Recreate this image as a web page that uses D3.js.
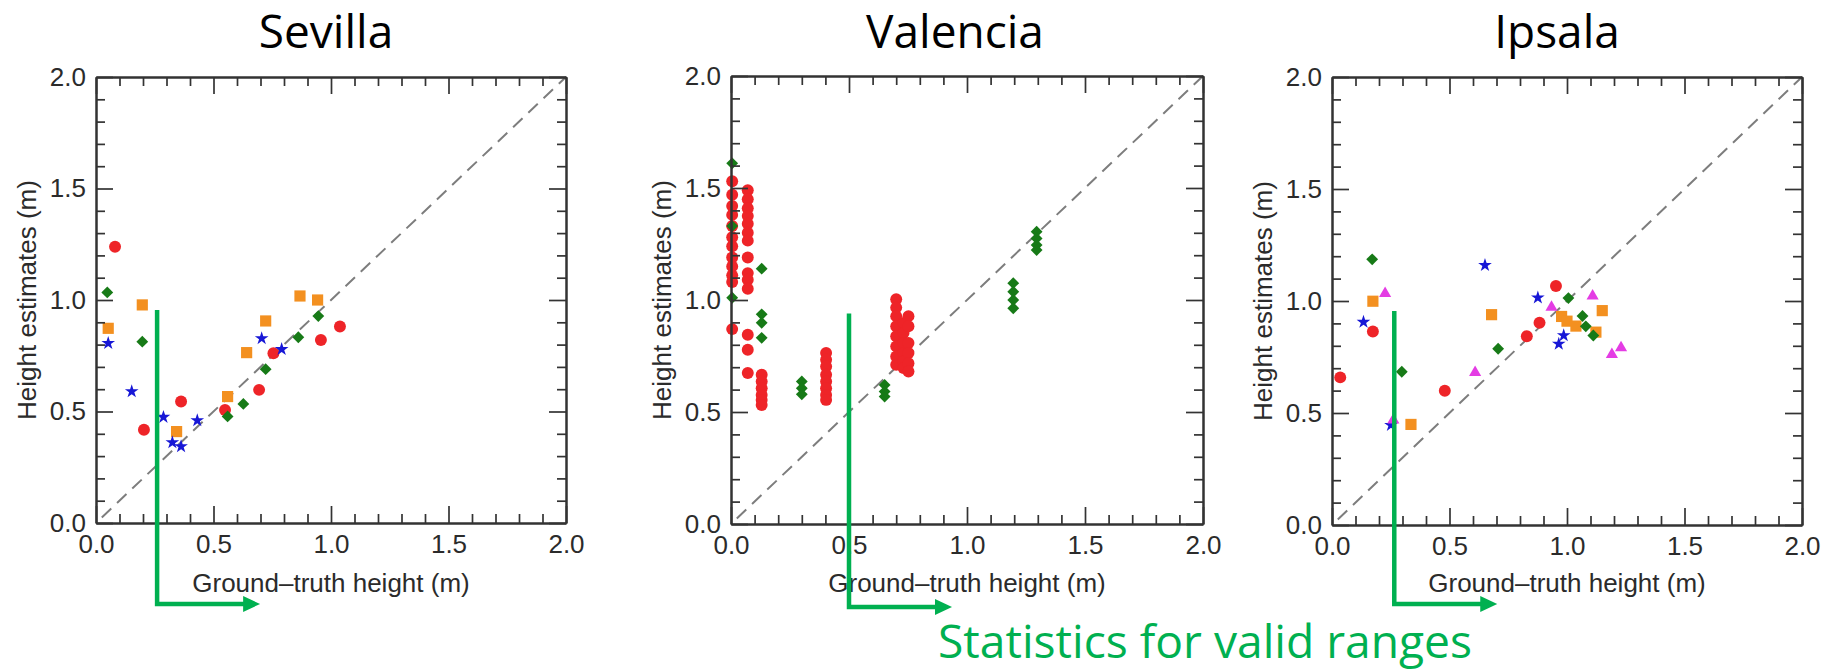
<!DOCTYPE html>
<html lang="en">
<head>
<meta charset="UTF-8">
<title>Height estimates vs ground-truth height</title>
<script src="https://cdnjs.cloudflare.com/ajax/libs/d3/7.8.5/d3.min.js"></script>
<style>
    body { margin: 0; background: #fff; }
    svg { display: block; }
    .tick text { font-family: "Liberation Sans", Arial, sans-serif; font-size: 26px; fill: #2b2b2b; }
    .axis-title { font-family: "Liberation Sans", Arial, sans-serif; font-size: 26px; fill: #2b2b2b; }
    .panel-title { font-family: "Open Sans", sans-serif; font-size: 46px; fill: #000; }
    .note { font-family: "Open Sans", sans-serif; font-size: 45px; fill: #00b050; }
</style>
</head>
<body>
<div id="chart"></div>
<script>
// axis ticks
const majorTicks = [0, 0.5, 1, 1.5, 2];
const tickLabels = ["0.0", "0.5", "1.0", "1.5", "2.0"];
const minorTicks = d3.range(1, 20).filter(i => i % 5 !== 0).map(i => i / 10);

const panelNames = ["Sevilla", "Valencia", "Ipsala"];
// start of the valid range (m) and top of the marker line, per panel
const validStart = [0.26, 0.5, 0.265];
const validTop = [0.955, 0.94, 0.955];

// Sevilla
const sevillaRed = [[0.081,1.239],[0.204,0.418],[0.362,0.545],[0.549,0.507],[0.694,0.597],[0.755,0.761],[0.957,0.821],[1.038,0.881]];
const sevillaOrange = [[0.052,0.873],[0.197,0.978],[0.343,0.410],[0.560,0.567],[0.641,0.764],[0.722,0.906],[0.868,1.018],[0.943,1.000]];
const sevillaGreen = [[0.048,1.034],[0.197,0.813],[0.560,0.478],[0.627,0.534],[0.722,0.690],[0.861,0.833],[0.946,0.928]];
const sevillaBlue = [[0.052,0.806],[0.152,0.590],[0.287,0.475],[0.325,0.361],[0.362,0.343],[0.431,0.460],[0.705,0.828],[0.790,0.779]];

// Valencia
const valenciaRed = [
    [0.005,1.53],[0.005,1.47],[0.005,1.42],[0.005,1.38],[0.005,1.33],[0.005,1.28],[0.005,1.24],[0.005,1.19],[0.005,1.15],[0.005,1.11],[0.005,1.08],[0.005,0.87],
    [0.071,1.49],[0.071,1.45],[0.071,1.41],[0.071,1.375],[0.071,1.34],[0.071,1.30],[0.071,1.265],[0.071,1.19],[0.071,1.12],[0.071,1.09],[0.071,1.05],[0.071,0.845],[0.071,0.778],[0.071,0.674],
    [0.13,0.666],[0.13,0.636],[0.13,0.606],[0.13,0.576],[0.13,0.554],[0.13,0.531],
    [0.403,0.763],[0.403,0.733],[0.403,0.703],[0.403,0.666],[0.403,0.636],[0.403,0.606],[0.403,0.576],[0.403,0.554],
    [0.70,1.003],[0.70,0.966],[0.70,0.928],[0.70,0.883],[0.70,0.838],[0.70,0.793],[0.70,0.748],[0.70,0.711],
    [0.731,0.898],[0.731,0.853],[0.731,0.808],[0.731,0.763],[0.731,0.726],[0.731,0.696],
    [0.752,0.928],[0.752,0.883],[0.752,0.808],[0.752,0.763],[0.752,0.718],[0.752,0.681]
];
const valenciaGreen = [
    [0.005,1.61],[0.005,1.33],[0.005,1.01],
    [0.13,1.14],[0.13,0.936],[0.13,0.898],[0.13,0.831],
    [0.30,0.636],[0.30,0.606],[0.30,0.579],
    [0.651,0.621],[0.651,0.591],[0.651,0.569],
    [1.196,1.075],[1.196,1.037],[1.196,1.0],[1.196,0.963],
    [1.295,1.305],[1.295,1.275],[1.295,1.245],[1.295,1.223]
];

// Ipsala
const ipsalaRed = [[0.035,0.659],[0.174,0.864],[0.48,0.599],[0.829,0.843],[0.883,0.903],[0.953,1.067]];
const ipsalaOrange = [[0.174,0.999],[0.336,0.449],[0.679,0.939],[0.977,0.931],[1.0,0.91],[1.038,0.888],[1.123,0.861],[1.15,0.957]];
const ipsalaGreen = [[0.171,1.186],[0.297,0.684],[0.707,0.787],[1.006,1.013],[1.066,0.933],[1.08,0.887],[1.112,0.846]];
const ipsalaBlue = [[0.134,0.906],[0.251,0.446],[0.651,1.160],[0.876,1.015],[0.965,0.808],[0.986,0.846]];
const ipsalaMagenta = [[0.226,1.033],[0.261,0.469],[0.609,0.681],[0.934,0.972],[1.109,1.022],[1.191,0.761],[1.23,0.791]];

const markerStyle = {
    red:     { symbol: d3.symbolCircle,   size: 112, color: "#ee2428", rotate: 0 },
    orange:  { symbol: d3.symbolSquare,   size: 125, color: "#f39020", rotate: 0 },
    green:   { symbol: d3.symbolSquare,   size: 70,  color: "#177a17", rotate: 45 },
    blue:    { symbol: d3.symbolStar,     size: 58,  color: "#1717d6", rotate: 0 },
    magenta: { symbol: d3.symbolTriangle, size: 64,  color: "#e43ce4", rotate: 0 }
};

const panelSeries = [
    [["red", sevillaRed], ["orange", sevillaOrange], ["green", sevillaGreen], ["blue", sevillaBlue]],
    [["red", valenciaRed], ["green", valenciaGreen]],
    [["red", ipsalaRed], ["orange", ipsalaOrange], ["green", ipsalaGreen], ["blue", ipsalaBlue], ["magenta", ipsalaMagenta]]
];

// pixel layout of each plot box
const frames = [
    { left: 96,   right: 566,  top: 77, bottom: 523, titleX: 326,  arrowY: 604 },
    { left: 731,  right: 1203, top: 76, bottom: 524, titleX: 955,  arrowY: 607 },
    { left: 1332, right: 1802, top: 77, bottom: 525, titleX: 1557, arrowY: 604 }
];

const green = "#00b050";
const axisColor = "#333";

const svg = d3.select("#chart").append("svg")
    .attr("width", 1831)
    .attr("height", 672);

function styleAxis(sel) {
    sel.attr("font-family", null).attr("font-size", null);
    sel.select(".domain").attr("stroke", axisColor).attr("stroke-width", 2);
    sel.selectAll(".tick line").attr("stroke", axisColor).attr("stroke-width", 1.7);
}

frames.forEach((f, i) => {
    const x = d3.scaleLinear().domain([0, 2]).range([f.left, f.right]);
    const y = d3.scaleLinear().domain([0, 2]).range([f.bottom, f.top]);
    const g = svg.append("g");

    // 1:1 line
    g.append("path")
        .datum(majorTicks.filter((d, k) => k === 0 || k === majorTicks.length - 1))
        .attr("d", d3.line().x(d => x(d)).y(d => y(d)))
        .attr("stroke", "#7d7d7d")
        .attr("stroke-width", 2)
        .attr("stroke-dasharray", "13,8")
        .attr("stroke-dashoffset", 13)
        .attr("fill", "none");

    // markers
    panelSeries[i].forEach(([key, pts]) => {
        const st = markerStyle[key];
        g.append("g").selectAll("path")
            .data(pts)
            .enter()
            .append("path")
            .attr("d", d3.symbol().type(st.symbol).size(st.size))
            .attr("transform", d => `translate(${x(d[0])},${y(d[1])}) rotate(${st.rotate})`)
            .attr("fill", st.color);
    });

    // frame with inward ticks on all sides
    const fmt = d => tickLabels[majorTicks.indexOf(d)];
    const sides = [
        [d3.axisBottom(x), `translate(0,${f.bottom})`, true, 12],
        [d3.axisTop(x), `translate(0,${f.top})`, false, 12],
        [d3.axisLeft(y), `translate(${f.left},0)`, true, 10],
        [d3.axisRight(y), `translate(${f.right},0)`, false, 10]
    ];
    sides.forEach(([axis, tr, labels, pad]) => {
        g.append("g").attr("transform", tr)
            .call(axis.tickValues(minorTicks).tickSize(-9).tickSizeOuter(0).tickFormat(""))
            .call(styleAxis);
        g.append("g").attr("transform", tr)
            .call(axis.tickValues(majorTicks).tickSize(-17).tickSizeOuter(0)
                .tickPadding(pad)
                .tickFormat(labels ? fmt : ""))
            .call(styleAxis);
    });

    // axis titles
    g.append("text")
        .attr("class", "axis-title")
        .attr("text-anchor", "middle")
        .attr("transform", `translate(${f.left - 60},${(f.top + f.bottom) / 2}) rotate(-90)`)
        .text("Height estimates (m)");
    g.append("text")
        .attr("class", "axis-title")
        .attr("text-anchor", "middle")
        .attr("x", (f.left + f.right) / 2)
        .attr("y", 592)
        .text("Ground\u2013truth height (m)");

    // panel title
    svg.append("text")
        .attr("class", "panel-title")
        .attr("text-anchor", "middle")
        .attr("x", f.titleX)
        .attr("y", 48)
        .text(panelNames[i]);

    // valid-range marker
    const vx = x(validStart[i]);
    const tip = vx + 103;
    svg.append("path")
        .attr("d", `M${vx},${y(validTop[i])}V${f.arrowY}H${tip - 14}`)
        .attr("fill", "none")
        .attr("stroke", green)
        .attr("stroke-width", 4.5)
        .attr("stroke-linejoin", "miter");
    svg.append("path")
        .attr("d", `M${tip - 17},${f.arrowY - 8}L${tip},${f.arrowY}L${tip - 17},${f.arrowY + 8}Z`)
        .attr("fill", green);
});

svg.append("text")
    .attr("class", "note")
    .attr("x", 938)
    .attr("y", 658)
    .attr("textLength", 534)
    .attr("lengthAdjust", "spacingAndGlyphs")
    .text("Statistics for valid ranges");
</script>
</body>
</html>
